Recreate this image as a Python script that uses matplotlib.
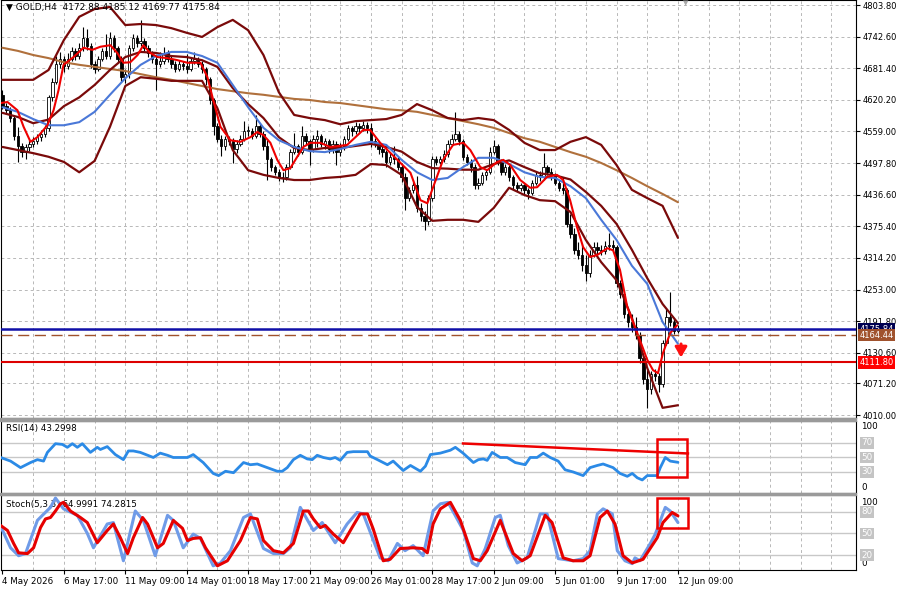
import matplotlib.pyplot as plt
import matplotlib.transforms as mtransforms

plt.rcParams['font.family'] = 'DejaVu Sans'

# ---- GOLD H4 candles (open = previous close) ----
first_open = 4630
closes = [4608, 4600, 4585, 4550, 4530, 4520, 4528, 4535, 4540, 4548,
          4555, 4565, 4625, 4655, 4690, 4700, 4685, 4700, 4715, 4705,
          4720, 4740, 4725, 4690, 4680, 4700, 4715, 4705, 4740, 4720,
          4700, 4665, 4670, 4720, 4740, 4730, 4735, 4720, 4710, 4700,
          4690, 4695, 4710, 4700, 4690, 4680, 4690, 4685, 4680, 4695,
          4700, 4690, 4680, 4660, 4620, 4570, 4545, 4530, 4545, 4540,
          4525, 4535, 4545, 4560, 4560, 4550, 4570, 4555, 4530, 4505,
          4490, 4480, 4470, 4470, 4490, 4520, 4530, 4520, 4550, 4540,
          4525, 4545, 4550, 4535, 4540, 4525, 4535, 4520, 4530, 4545,
          4565, 4560, 4570, 4565, 4572, 4565, 4540, 4535, 4525, 4520,
          4500, 4510, 4505, 4490, 4470, 4430, 4445, 4455, 4410, 4395,
          4385, 4430, 4505, 4500, 4505, 4515, 4535, 4545, 4555, 4540,
          4510, 4500, 4490, 4455, 4460, 4475, 4480, 4520, 4530, 4500,
          4480, 4490, 4470, 4455, 4450, 4455, 4445, 4440, 4460, 4475,
          4470, 4490, 4480, 4475, 4460, 4450, 4445, 4380, 4360, 4330,
          4320, 4300, 4285, 4320, 4335, 4330, 4328, 4338, 4340, 4335,
          4265, 4245, 4205, 4190, 4180, 4165, 4120, 4080, 4060, 4090,
          4085, 4070, 4150, 4200, 4190, 4172.88, 4175.84]
highs = [4640, 4615, 4606, 4590, 4568, 4536, 4534, 4542, 4548, 4555,
         4562, 4572, 4630, 4662, 4705, 4712, 4706, 4710, 4722, 4720,
         4730, 4762, 4758, 4730, 4695, 4706, 4720, 4748, 4752, 4745,
         4725, 4705, 4680, 4726, 4748, 4745, 4775, 4740, 4726, 4715,
         4706, 4712, 4722, 4716, 4706, 4696, 4698, 4695, 4708, 4702,
         4712, 4704, 4695, 4684, 4665, 4624, 4575, 4552, 4550, 4550,
         4546, 4542, 4552, 4580, 4570, 4565, 4590, 4574, 4560, 4542,
         4510, 4495, 4486, 4480, 4496, 4526, 4556, 4535, 4570, 4556,
         4545, 4552, 4562, 4555, 4546, 4544, 4542, 4540, 4536, 4550,
         4572, 4570, 4578, 4576, 4580, 4578, 4576, 4546, 4540, 4530,
         4524, 4518, 4530, 4510, 4498, 4478, 4452, 4462, 4472, 4420,
         4405, 4436, 4512, 4512, 4512, 4524, 4542, 4554, 4597, 4560,
         4545, 4515, 4505, 4496, 4468, 4480, 4486, 4528, 4542, 4535,
         4505, 4496, 4494, 4475, 4462, 4460, 4458, 4450, 4466, 4480,
         4482, 4517, 4495, 4488, 4478, 4466, 4470, 4450, 4400, 4372,
         4345, 4342, 4320, 4330, 4345, 4345, 4340, 4346, 4362, 4348,
         4340, 4272, 4250, 4212, 4205, 4200, 4170, 4125, 4098, 4096,
         4100, 4092, 4156, 4215, 4248, 4198, 4185.12]
lows = [4602, 4592, 4578, 4542, 4500, 4510, 4505, 4522, 4528, 4534,
        4540, 4548, 4560, 4618, 4650, 4682, 4675, 4680, 4695, 4698,
        4700, 4715, 4716, 4682, 4672, 4676, 4695, 4700, 4700, 4712,
        4692, 4655, 4652, 4662, 4714, 4722, 4725, 4714, 4704, 4692,
        4640, 4684, 4690, 4694, 4682, 4674, 4676, 4678, 4672, 4676,
        4690, 4684, 4672, 4648, 4612, 4552, 4538, 4512, 4524, 4532,
        4498, 4518, 4530, 4540, 4550, 4544, 4546, 4548, 4524, 4465,
        4482, 4474, 4464, 4461, 4466, 4486, 4515, 4512, 4516, 4532,
        4494, 4520, 4528, 4528, 4526, 4518, 4518, 4494, 4512, 4524,
        4540, 4550, 4554, 4558, 4560, 4556, 4528, 4528, 4516, 4510,
        4490, 4495, 4496, 4484, 4462, 4407, 4424, 4440, 4404, 4386,
        4368, 4378, 4425, 4494, 4496, 4500, 4510, 4530, 4540, 4532,
        4504, 4494, 4480, 4448, 4448, 4455, 4466, 4476, 4515, 4495,
        4474, 4475, 4464, 4448, 4444, 4444, 4438, 4428, 4436, 4455,
        4464, 4466, 4474, 4466, 4455, 4444, 4438, 4375, 4352, 4322,
        4312, 4288, 4270, 4278, 4316, 4322, 4320, 4322, 4330, 4328,
        4258, 4236, 4198, 4180, 4170, 4158, 4110, 4070, 4023, 4050,
        4075, 4055, 4065, 4145, 4182, 4166, 4169.77]

# ---- indicator lines, read every 4 bars ----
line_step = 4
bb_up = [4659, 4659, 4659, 4678, 4736, 4781, 4796, 4800, 4765, 4767,
         4765, 4759, 4750, 4742, 4761, 4775, 4755, 4707, 4635, 4591,
         4585, 4581, 4573, 4579, 4581, 4583, 4591, 4612, 4600, 4585,
         4581, 4585, 4581, 4562, 4537, 4523, 4523, 4539, 4548, 4533,
         4494, 4446, 4430, 4415, 4353]
bb_mid = [4595, 4587, 4575, 4582, 4608, 4625, 4649, 4678, 4703, 4713,
          4711, 4705, 4703, 4697, 4684, 4643, 4612, 4585, 4548, 4527,
          4523, 4527, 4527, 4531, 4535, 4529, 4520, 4500, 4488, 4487,
          4485, 4485, 4496, 4503, 4490, 4478, 4474, 4466, 4442, 4415,
          4380, 4330, 4275, 4225, 4188]
bb_lo = [4529, 4523, 4517, 4510, 4500, 4480, 4502, 4568, 4647, 4664,
         4661, 4657, 4657, 4657, 4604, 4523, 4484, 4475, 4469, 4465,
         4465, 4469, 4471, 4475, 4496, 4494, 4475, 4413, 4386, 4388,
         4388, 4384, 4411, 4450, 4436, 4426, 4424, 4403, 4349, 4306,
         4271, 4198, 4101, 4024, 4029]
ma_blue = [4606, 4597, 4583, 4571, 4571, 4577, 4597, 4630, 4662, 4688,
           4705, 4713, 4713, 4705, 4692, 4649, 4606, 4566, 4542, 4529,
           4521, 4519, 4525, 4533, 4539, 4533, 4504, 4480, 4465, 4469,
           4490, 4508, 4508, 4496, 4480, 4471, 4469, 4453, 4430, 4388,
           4349, 4299, 4264, 4190, 4148]
ma_brown = [4721, 4715, 4707, 4701, 4693, 4688, 4684, 4680, 4676, 4670,
            4664, 4659, 4653, 4647, 4641, 4637, 4633, 4630, 4626, 4622,
            4620, 4616, 4614, 4610, 4606, 4602, 4600, 4597, 4591, 4585,
            4579, 4573, 4566, 4556, 4546, 4539, 4529, 4519, 4510, 4498,
            4484, 4469, 4453, 4438, 4422]

# fast red MA, read at its turning points
red_idx = [-0.52, 1.3, 3.9, 5.5, 7.3, 9.1, 11.7, 13.3, 14.6, 15.9, 18.5, 21.1,
           23.4, 25.5, 28.1, 29.9, 31.5, 33.3, 35.2, 36.7, 38.5, 40.4, 43.0,
           45.6, 48.2, 51.6, 53.4, 54.9, 56.8, 59.4, 62.0, 64.6, 66.4, 68.0,
           69.8, 71.6, 73.2, 75.0, 76.8, 78.4, 80.2, 82.8, 85.4, 89.8, 94.0,
           95.8, 98.4, 102.9, 106.3, 108.9, 110.7, 112.2, 114.8, 117.4, 120.1,
           121.9, 124.5, 126.3, 128.9, 130.5, 132.3, 134.9, 137.5, 139.3,
           141.9, 144.5, 146.1, 147.9, 149.7, 151.3, 153.1, 155.0, 157.6,
           159.1, 160.9, 162.8, 165.4, 168.0, 169.5, 170.8, 172.1, 174.0, 175.8]
red_val = [4614, 4616, 4600, 4568, 4539, 4548, 4571, 4600, 4639, 4688, 4703, 4721,
           4717, 4723, 4726, 4711, 4692, 4693, 4707, 4726, 4711, 4703, 4701,
           4697, 4692, 4692, 4664, 4620, 4568, 4542, 4539, 4548, 4558, 4552,
           4537, 4504, 4484, 4488, 4510, 4529, 4537, 4537, 4529, 4533, 4562,
           4562, 4537, 4504, 4479, 4426, 4420, 4451, 4504, 4533, 4537,
           4523, 4490, 4484, 4500, 4504, 4494, 4465, 4450, 4451,
           4471, 4475, 4465, 4426, 4374, 4335, 4316, 4320, 4333,
           4329, 4291, 4219, 4169, 4117, 4097, 4091, 4130, 4169, 4184]

# ---- RSI(14) ----
rsi_idx = [-0.5, 2.1, 4.7, 7.3, 9.1, 10.7, 11.7, 13.8, 15.6, 16.9, 18.2, 19.5,
           20.8, 22.9, 24.7, 25.5, 27.3, 29.4, 31.5, 32.8, 34.1, 35.9, 39.3,
           41.1, 43.0, 44.5, 48.2, 49.7, 52.3, 54.9, 56.3, 58.1, 60.2, 62.8,
           64.6, 66.4, 69.0, 71.6, 72.9, 74.2, 75.8, 77.6, 79.4, 80.7, 82.0,
           83.6, 85.4, 86.7, 88.0, 89.8, 91.4, 95.1, 95.8, 97.7, 100.3, 101.8,
           104.4, 106.3, 108.9, 110.2, 111.5, 114.1, 116.7, 118.0, 120.0,
           122.7, 124.0, 125.3, 126.3, 127.6, 129.7, 131.5, 133.6, 136.2,
           137.5, 139.3, 140.9, 142.7, 144.8, 146.6, 148.7, 151.3, 153.1,
           155.0, 156.5, 159.1, 160.9, 162.8, 164.1, 165.4, 166.7, 168.0,
           170.6, 171.4, 172.7, 174.0, 176.0]
rsi_val = [50, 45, 36, 43, 47, 45, 57, 69, 68, 64, 69, 64,
           69, 57, 64, 61, 65, 54, 47, 59, 59, 57, 50,
           56, 53, 50, 50, 54, 43, 28, 25, 31, 29, 43,
           40, 41, 36, 31, 31, 36, 47, 53, 48, 47, 53,
           50, 48, 50, 46, 57, 58, 58, 52, 47, 40, 45,
           32, 39, 31, 38, 54, 56, 60, 64, 56,
           43, 47, 48, 46, 57, 50, 50, 43, 40,
           50, 50, 56, 50, 45, 33, 30, 25, 36,
           39, 41, 36, 28, 24, 28, 22, 19, 25,
           25, 36, 50, 45, 43.3]
rsi_levels = [70, 50, 30]
rsi_trend_idx = [120.0, 178.6]
rsi_trend_val = [69.3, 55.5]

# ---- Stochastic(5,3,3) ----
st_k_idx = [-0.5, 2.1, 4.2, 6.0, 9.1, 10.4, 12.5, 13.8, 15.9, 19.5, 22.1, 23.7,
            27.3, 28.9, 31.5, 34.6, 36.7, 39.8, 43.0, 44.5, 47.1, 49.7, 51.6,
            54.9, 56.8, 59.4, 62.8, 64.6, 68.0, 70.6, 73.2, 75.0, 77.6, 81.0,
            83.3, 86.7, 89.8, 92.4, 94.0, 98.4, 100.5, 102.9, 104.9, 107.0,
            109.6, 112.2, 114.1, 116.1, 120.1, 122.4, 123.7, 125.8, 128.4,
            129.7, 131.8, 134.1, 136.7, 140.1, 141.9, 144.8, 148.7, 151.3,
            153.1, 155.0, 156.5, 158.9, 160.2, 162.2, 164.1, 164.8, 166.1,
            168.8, 170.1, 172.7, 174.0, 176.0]
st_k_val = [60, 30, 19, 22, 68, 75, 86, 99, 84, 75, 50, 30,
            63, 65, 12, 81, 68, 19, 75, 68, 30, 49, 43,
            5, 9, 26, 72, 77, 29, 22, 22, 30, 86, 54,
            65, 37, 63, 79, 77, 16, 12, 36, 26, 33,
            19, 81, 91, 93, 54, 9, 5, 29, 72,
            75, 33, 9, 16, 77, 77, 15, 12, 15,
            26, 77, 84, 77, 26, 12, 8, 16, 12,
            36, 49, 86, 81, 65]
st_d_idx = [-0.5, 1.3, 2.9, 4.2, 6.5, 8.1, 9.9, 11.2, 12.5, 13.8, 15.1, 15.9,
            17.7, 20.3, 22.1, 24.7, 27.3, 28.9, 30.7, 32.6, 34.1, 36.5, 37.8,
            40.4, 41.9, 44.5, 46.9, 48.2, 49.7, 51.6, 52.9, 56.0, 58.6, 62.0,
            64.6, 66.4, 68.0, 70.6, 73.2, 75.8, 78.4, 79.7, 81.0, 82.8, 84.1,
            86.2, 88.8, 91.4, 93.2, 95.1, 96.6, 99.2, 101.0, 103.6, 107.0,
            109.4, 110.7, 112.2, 114.1, 116.7, 119.3, 122.7, 124.5, 126.3,
            129.7, 133.1, 135.4, 137.5, 141.4, 143.2, 146.1, 148.7, 151.3,
            153.1, 155.7, 157.6, 159.6, 161.7, 164.1, 166.9, 170.6, 172.1,
            174.5, 176.0]
st_d_val = [61, 54, 36, 23, 22, 30, 58, 70, 72, 81, 91, 93,
            81, 72, 65, 37, 54, 63, 44, 22, 44, 72, 63,
            30, 36, 68, 57, 40, 43, 44, 30, 5, 12, 40,
            72, 70, 40, 26, 23, 36, 81, 81, 70, 58, 61,
            49, 37, 61, 77, 77, 56, 12, 14, 29, 30,
            29, 23, 63, 84, 93, 68, 15, 12, 26,
            68, 22, 12, 19, 75, 65, 16, 12, 12,
            19, 72, 81, 63, 19, 9, 14, 44, 65,
            79, 74.28]
st_levels = [80, 50, 20]

# ---- axes text ----
price_ticks = [4803.80, 4742.60, 4681.40, 4620.20, 4559.00, 4497.80, 4436.60,
               4375.40, 4314.20, 4253.00, 4191.80, 4130.60, 4071.20, 4010.00]
date_labels = ["4 May 2026", "6 May 17:00", "11 May 09:00", "14 May 01:00",
               "18 May 17:00", "21 May 09:00", "26 May 01:00", "28 May 17:00",
               "2 Jun 09:00", "5 Jun 01:00", "9 Jun 17:00", "12 Jun 09:00"]
bid_price = 4175.84
pending_price = 4164.44
support_price = 4111.80
arrow_idx = 176.8
arrow_from, arrow_to = 4153, 4116

# ------------------------------------------------------------------
W, H = 900, 590
RIGHT = 856
fig = plt.figure(figsize=(9, 5.9), dpi=100)


def panel(top, bottom):
    return fig.add_axes([0.5 / W, 1 - bottom / H, (RIGHT - 0.5) / W, (bottom - top) / H])


ax = panel(0, 418)
ax_rsi = panel(421, 493)
ax_st = panel(495, 570)
fig.patches.append(plt.Rectangle((0, 1 - 421 / H), RIGHT / W, 3 / H, transform=fig.transFigure,
                                 color='#9a9a9a', zorder=0))
fig.patches.append(plt.Rectangle((0, 1 - 495 / H), RIGHT / W, 2 / H, transform=fig.transFigure,
                                 color='#9a9a9a', zorder=0))

grid_kw = dict(color='#b8b8b8', lw=0.7, linestyle=(0, (3, 3)), zorder=0)
line_kw = dict(solid_joinstyle='round', solid_capstyle='round')
xlim = (-0.52, (RIGHT - 2) / 3.84)
for a in (ax, ax_rsi, ax_st):
    a.set_xlim(*xlim)
    for g in range(8, 223, 8):
        a.axvline(g, **grid_kw)
    for s in a.spines.values():
        s.set_linewidth(0.8)
    a.yaxis.tick_right()
    a.tick_params(axis='y', direction='out', length=3, pad=1.5, labelsize=6)
    a.tick_params(axis='x', direction='out', length=3, labelsize=6.3, pad=2)
    a.set_xticks(range(0, 177, 16))
    a.set_xticklabels([])

# ---- main price panel ----
ax.set_ylim(4004.3, 4813.5)
ax.set_yticks(price_ticks)
ax.set_yticklabels(["%.2f" % p for p in price_ticks])
for p in price_ticks:
    ax.axhline(p, **grid_kw)

idx = list(range(len(closes)))
opens = [first_open] + closes[:-1]
ax.vlines(idx, lows, highs, color='black', lw=0.8, zorder=2)
body_bottom = [min(o, c) for o, c in zip(opens, closes)]
body_height = [max(abs(c - o), 1.0) for o, c in zip(opens, closes)]
body_color = ['white' if c >= o else 'black' for o, c in zip(opens, closes)]
ax.bar(idx, body_height, bottom=body_bottom, width=0.62, color=body_color,
       edgecolor='black', linewidth=0.6, zorder=3)

line_idx = list(range(0, len(closes), line_step))
ax.plot(line_idx, ma_brown, color='#b0703c', lw=1.5, zorder=4, **line_kw)
for band in (bb_up, bb_mid, bb_lo):
    ax.plot(line_idx, band, color='#7a0a0a', lw=1.6, zorder=4, **line_kw)
ax.plot(line_idx, ma_blue, color='#4a78d8', lw=1.5, zorder=5, **line_kw)
ax.plot(red_idx, red_val, color='#ee0000', lw=1.5, zorder=6, **line_kw)

ax.axhline(bid_price, color='#1010a8', lw=1.8, zorder=7)
ax.axhline(pending_price, color='#a0522d', lw=1.0, linestyle=(0, (8, 4)), zorder=7)
ax.axhline(support_price, color='#dd0000', lw=1.5, zorder=7)
ax.annotate('', xy=(arrow_idx, arrow_to), xytext=(arrow_idx, arrow_from),
            arrowprops=dict(arrowstyle='-|>,head_width=0.35,head_length=0.6',
                            color='#ff1010', lw=2.2), zorder=8)

right = mtransforms.blended_transform_factory(ax.transAxes, ax.transData)
for price, fc in ((bid_price, '#000050'), (pending_price, '#a0522d'), (support_price, '#ff0000')):
    ax.text(1.004, price, "%.2f" % price, transform=right, ha='left', va='center',
            fontsize=6, color='white', clip_on=False, zorder=10,
            bbox=dict(boxstyle='square,pad=0.2', fc=fc, ec='none'))

ax.text(0.006, 0.983, "\u25bc GOLD,H4  4172.88 4185.12 4169.77 4175.84",
        transform=ax.transAxes, fontsize=6.5, va='center', ha='left', zorder=9)
ax.text(686 / RIGHT, 0.992, "\u25bc", transform=ax.transAxes, fontsize=5,
        color='#a8a8a8', ha='center', va='center')

# ---- RSI panel ----
ax_rsi.set_ylim(1.0, 100.3)
ax_rsi.set_yticks([])
for lv in rsi_levels:
    ax_rsi.axhline(lv, color='#c8c8c8', lw=1.0, zorder=1)
ax_rsi.plot(rsi_idx, rsi_val, color='#2b8ae6', lw=2.0, zorder=4, **line_kw)
ax_rsi.plot(rsi_trend_idx, rsi_trend_val, color='#ee0000', lw=1.8, zorder=5)
ax_rsi.add_patch(plt.Rectangle((170.6, 22.4), 7.8, 52.4, fill=False,
                               ec='#ee0000', lw=1.8, zorder=6))
ax_rsi.text(0.007, 0.89, "RSI(14) 43.2998", transform=ax_rsi.transAxes,
            fontsize=6.3, va='center')
rr = mtransforms.blended_transform_factory(ax_rsi.transAxes, ax_rsi.transData)
ax_rsi.text(1.006, 0.917, "100", transform=ax_rsi.transAxes, fontsize=6.3, va='center')
ax_rsi.text(1.006, 0.083, "0", transform=ax_rsi.transAxes, fontsize=6.3, va='center')
for lv in rsi_levels:
    ax_rsi.text(1.006, lv, str(lv), transform=rr, fontsize=6.3, va='center',
                color='white', clip_on=False,
                bbox=dict(boxstyle='square,pad=0.15', fc='#c4c4c4', ec='none'))

# ---- Stochastic panel ----
ax_st.set_ylim(-0.8, 103.2)
ax_st.set_yticks([])
for lv in st_levels:
    ax_st.axhline(lv, color='#c8c8c8', lw=1.0, zorder=1)
ax_st.plot(st_k_idx, st_k_val, color='#6f9be8', lw=2.2, zorder=4, **line_kw)
ax_st.plot(st_d_idx, st_d_val, color='#e60000', lw=2.2, zorder=5, **line_kw)
ax_st.add_patch(plt.Rectangle((170.6, 57.9), 8.0, 41.5, fill=False,
                              ec='#ee0000', lw=1.8, zorder=6))
ax_st.text(0.007, 0.88, "Stoch(5,3,3) 64.9991 74.2815", transform=ax_st.transAxes,
           fontsize=6.3, va='center', zorder=3)
sr = mtransforms.blended_transform_factory(ax_st.transAxes, ax_st.transData)
ax_st.text(1.006, 0.897, "100", transform=ax_st.transAxes, fontsize=6.3, va='center')
ax_st.text(1.006, 0.093, "0", transform=ax_st.transAxes, fontsize=6.3, va='center')
for lv in st_levels:
    ax_st.text(1.006, lv, str(lv), transform=sr, fontsize=6.3, va='center',
               color='white', clip_on=False,
               bbox=dict(boxstyle='square,pad=0.15', fc='#c4c4c4', ec='none'))

ax_st.set_xticklabels(date_labels, ha='left')

fig.savefig("out.png", dpi=100)
plt.close(fig)
